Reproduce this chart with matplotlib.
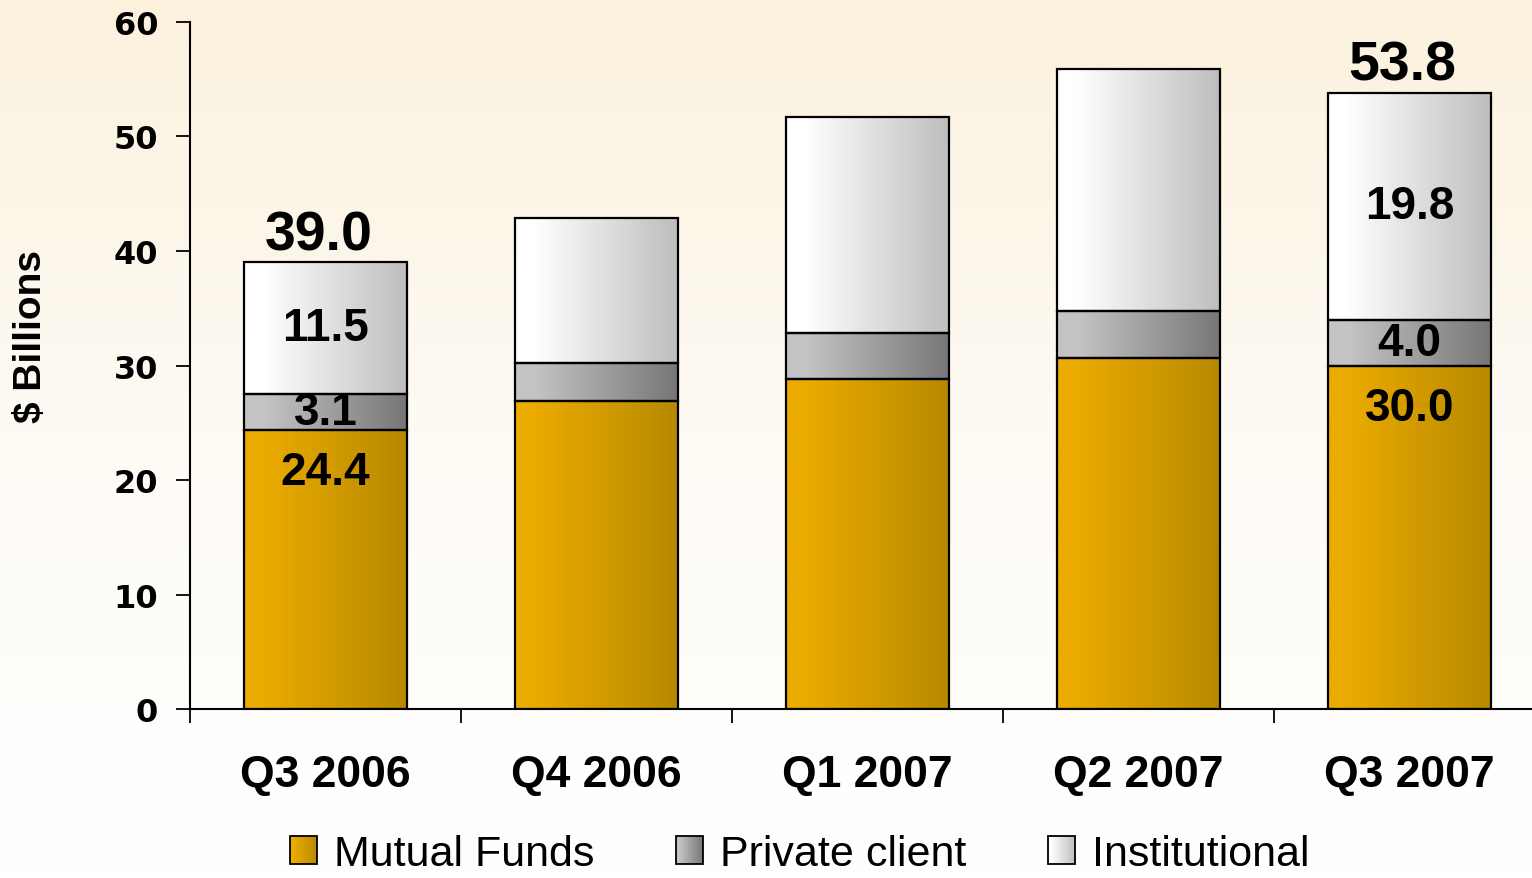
import numpy as np
import matplotlib
matplotlib.use("Agg")
import matplotlib.pyplot as plt
from matplotlib.patches import Rectangle
from matplotlib.image import BboxImage
from matplotlib.transforms import Bbox, TransformedBbox
from matplotlib.legend_handler import HandlerBase
from matplotlib.colors import LinearSegmentedColormap

# -----------------------------
# DATA
# -----------------------------
quarters = ["Q3 2006", "Q4 2006", "Q1 2007", "Q2 2007", "Q3 2007"]
mutual_funds = [24.4, 26.9, 28.8, 30.7, 30.0]
private_client = [3.1, 3.3, 4.0, 4.1, 4.0]
institutional = [11.5, 12.7, 18.9, 21.1, 19.8]
series_names = ["Mutual Funds", "Private client", "Institutional"]
labelled_bars = [0, 4]
totals_shown = {0: "39.0", 4: "53.8"}

# gradient colours (left -> right)
grad_colors = [("#EBAB00", "#B78900"), ("#C4C4C4", "#777777"), ("#FFFFFF", "#BEBEBE")]


def grad_cmap(c0, c1):
    return LinearSegmentedColormap.from_list("g", [(0, c0), (0.12, c0), (1, c1)])


plt.rcParams["font.family"] = ["Liberation Sans", "DejaVu Sans"]

fig = plt.figure(figsize=(15.32, 8.79), dpi=100)

# -----------------------------
# BACKGROUND (vertical cream -> white gradient)
# -----------------------------
bg = fig.add_axes([0, 0, 1, 1], zorder=-10)
bg_cmap = LinearSegmentedColormap.from_list("bg", ["#FBF1DD", "#FEFBF5", "#FFFFFF"])
bg.imshow(np.linspace(0, 1, 256).reshape(-1, 1), cmap=bg_cmap, aspect="auto",
          extent=(0, 1, 0, 1), origin="upper")
bg.set_axis_off()

ax = fig.add_axes([0.124, 0.192, 0.8845, 0.782])
ax.patch.set_alpha(0)

x = np.arange(len(quarters))
width = 0.6
grad = np.linspace(0, 1, 256).reshape(1, -1)

bottoms = np.zeros(len(quarters))
for vals, (c0, c1) in zip([mutual_funds, private_client, institutional], grad_colors):
    cmap = grad_cmap(c0, c1)
    bars = ax.bar(x, vals, width, bottom=bottoms, facecolor="none",
                  edgecolor="black", linewidth=1.6, zorder=3)
    for b in bars:
        ax.imshow(grad, cmap=cmap, aspect="auto", zorder=2,
                  extent=(b.get_x(), b.get_x() + b.get_width(),
                          b.get_y(), b.get_y() + b.get_height()))
    bottoms = bottoms + np.array(vals)

# segment labels
for i in labelled_bars:
    mf, pc, inst = mutual_funds[i], private_client[i], institutional[i]
    ax.text(x[i], mf - 3.7, f"{mf:.1f}", ha="center", va="center",
            fontsize=33, fontweight="bold", zorder=5)
    ax.text(x[i], mf + pc / 2, f"{pc:.1f}", ha="center", va="center",
            fontsize=33, fontweight="bold", zorder=5)
    ax.text(x[i], mf + pc + inst / 2, f"{inst:.1f}", ha="center", va="center",
            fontsize=33, fontweight="bold", zorder=5)
    ax.annotate(totals_shown[i], (x[i], bottoms[i]), xytext=(-5, 1),
                textcoords="offset points", ha="center", va="bottom",
                fontsize=40, fontweight="bold", zorder=5)

# -----------------------------
# AXES STYLE
# -----------------------------
ax.set_xlim(-0.5, len(quarters) - 0.5)
ax.set_ylim(0, 60)
ax.set_yticks(range(0, 61, 10))
ax.set_yticklabels([str(v) for v in range(0, 61, 10)],
                   fontsize=23, fontweight="bold", family="DejaVu Sans")
ax.tick_params(axis="y", length=10, width=1.3, pad=13)
ax.set_xticks(x)
ax.set_xticklabels(quarters, fontsize=32, fontweight="bold")
ax.set_xticks(np.arange(-0.5, len(quarters)), minor=True)
ax.tick_params(axis="x", which="major", length=0, pad=32)
ax.tick_params(axis="x", which="minor", length=10, width=1.3)
for s in ["top", "right"]:
    ax.spines[s].set_visible(False)
for s in ["left", "bottom"]:
    ax.spines[s].set_linewidth(1.5)
ax.set_ylabel("$ Billions", fontsize=28, fontweight="bold", va="center")
ax.yaxis.set_label_coords(-0.117, 0.543)


# -----------------------------
# LEGEND with gradient squares
# -----------------------------
class GradHandler(HandlerBase):
    def __init__(self, c0, c1):
        super().__init__()
        self.cmap = grad_cmap(c0, c1)

    def create_artists(self, legend, orig_handle, xdescent, ydescent,
                       width, height, fontsize, trans):
        bb = TransformedBbox(Bbox.from_bounds(-xdescent, -ydescent, width, height), trans)
        img = BboxImage(bb, cmap=self.cmap, interpolation="bilinear")
        img.set_data(grad)
        rect = Rectangle((-xdescent, -ydescent), width, height, facecolor="none",
                         edgecolor="black", linewidth=1.3, transform=trans)
        return [img, rect]


handles = [Rectangle((0, 0), 1, 1) for _ in series_names]
handler_map = {h: GradHandler(c0, c1) for h, (c0, c1) in zip(handles, grad_colors)}
fig.legend(handles, series_names, handler_map=handler_map, loc="center",
           bbox_to_anchor=(0.522, 0.027), ncol=3, frameon=False, fontsize=31,
           handlelength=0.62, handleheight=0.62, handletextpad=0.4,
           columnspacing=1.9, borderpad=0)

fig.savefig("out.png", dpi=100)
